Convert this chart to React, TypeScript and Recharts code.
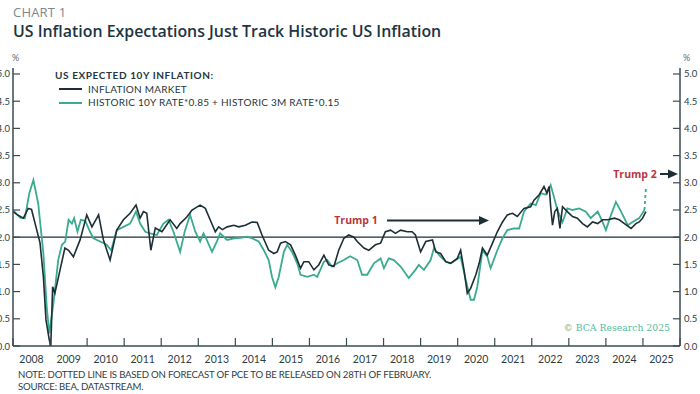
import React from 'react';
import { LineChart, Line, XAxis, YAxis, ReferenceLine } from 'recharts';

// ---------- data ----------
const marketDates = [
  2008.0, 2008.1, 2008.28, 2008.41, 2008.5, 2008.62, 2008.73, 2008.82, 2008.89, 2008.98,
  2009.02, 2009.07, 2009.13, 2009.27, 2009.4, 2009.5, 2009.63, 2009.81, 2009.99, 2010.13,
  2010.31, 2010.44, 2010.62, 2010.8, 2010.98, 2011.16, 2011.32, 2011.43, 2011.52, 2011.61,
  2011.72, 2011.84, 2012.02, 2012.24, 2012.42, 2012.51, 2012.69, 2012.83, 2013.05, 2013.19,
  2013.32, 2013.46, 2013.55, 2013.65, 2013.78, 2013.96, 2014.09, 2014.27, 2014.45, 2014.59,
  2014.72, 2014.9, 2015.04, 2015.13, 2015.22, 2015.35, 2015.49, 2015.62, 2015.76, 2015.85,
  2015.98, 2016.12, 2016.25, 2016.39, 2016.52, 2016.66, 2016.79, 2016.93, 2017.06, 2017.2,
  2017.29, 2017.47, 2017.6, 2017.78, 2017.92, 2018.05, 2018.19, 2018.32, 2018.46, 2018.64,
  2018.77, 2018.86, 2019.0, 2019.14, 2019.32, 2019.41, 2019.54, 2019.68, 2019.81, 2019.99,
  2020.08, 2020.17, 2020.26, 2020.35, 2020.49, 2020.58, 2020.67, 2020.8, 2020.94, 2021.07,
  2021.21, 2021.34, 2021.48, 2021.61, 2021.79, 2021.97, 2022.06, 2022.2, 2022.33, 2022.41,
  2022.47, 2022.51, 2022.56, 2022.62, 2022.69, 2022.76, 2022.83, 2022.96, 2023.1, 2023.23,
  2023.37, 2023.5, 2023.64, 2023.78, 2023.91, 2024.05, 2024.23, 2024.36, 2024.5, 2024.68,
  2024.81, 2024.9, 2024.99, 2025.08,
];
const marketValues = [
  2.47, 2.42, 2.35, 2.53, 2.51, 2.19, 1.89, 1.27, 0.48, 0.11,
  0.0, 1.09, 0.97, 1.4, 1.8, 1.76, 1.64, 1.95, 2.41, 2.19,
  2.41, 1.95, 1.58, 2.13, 2.32, 2.44, 2.59, 2.35, 2.47, 2.44,
  1.76, 2.17, 2.1, 2.32, 2.16, 2.25, 2.37, 2.5, 2.59, 2.53,
  2.32, 2.1, 2.19, 2.14, 2.19, 2.22, 2.19, 2.22, 2.28, 2.27,
  2.04, 1.76, 1.7, 1.73, 1.89, 1.92, 1.86, 1.67, 1.43, 1.55,
  1.55, 1.4, 1.49, 1.67, 1.49, 1.46, 1.76, 1.98, 2.04, 2.0,
  1.92, 1.8, 1.76, 1.86, 1.89, 2.1, 2.13, 2.07, 2.13, 2.1,
  2.1, 2.04, 1.73, 1.92, 1.95, 1.73, 1.7, 1.55, 1.52, 1.61,
  1.76, 1.4, 0.97, 1.06, 1.31, 1.52, 1.8, 1.67, 1.89, 2.1,
  2.28, 2.41, 2.44, 2.38, 2.53, 2.56, 2.68, 2.78, 2.93, 2.81,
  2.93, 2.56, 2.22, 2.47, 2.53, 2.16, 2.56, 2.47, 2.38, 2.35,
  2.25, 2.19, 2.28, 2.25, 2.32, 2.32, 2.35, 2.32, 2.25, 2.16,
  2.25, 2.28, 2.35, 2.47,
];

const historicDates = [
  2008.0, 2008.19, 2008.32, 2008.44, 2008.55, 2008.68, 2008.82, 2008.91, 2008.98, 2009.09,
  2009.22, 2009.32, 2009.41, 2009.5, 2009.59, 2009.65, 2009.74, 2009.83, 2009.95, 2010.08,
  2010.17, 2010.35, 2010.53, 2010.65, 2010.8, 2010.98, 2011.16, 2011.32, 2011.43, 2011.57,
  2011.7, 2011.88, 2012.06, 2012.2, 2012.33, 2012.51, 2012.64, 2012.78, 2012.92, 2013.05,
  2013.14, 2013.23, 2013.37, 2013.5, 2013.59, 2013.78, 2013.96, 2014.14, 2014.32, 2014.45,
  2014.63, 2014.77, 2014.9, 2014.99, 2015.08, 2015.17, 2015.31, 2015.4, 2015.53, 2015.67,
  2015.76, 2015.94, 2016.12, 2016.21, 2016.39, 2016.48, 2016.61, 2016.75, 2016.93, 2017.1,
  2017.29, 2017.42, 2017.56, 2017.74, 2017.92, 2018.01, 2018.14, 2018.28, 2018.46, 2018.68,
  2018.86, 2018.95, 2019.09, 2019.27, 2019.36, 2019.5, 2019.68, 2019.81, 2019.95, 2020.08,
  2020.22, 2020.35, 2020.44, 2020.53, 2020.67, 2020.8, 2020.89, 2021.07, 2021.21, 2021.34,
  2021.52, 2021.66, 2021.79, 2021.97, 2022.11, 2022.24, 2022.38, 2022.51, 2022.6, 2022.69,
  2022.83, 2022.96, 2023.1, 2023.28, 2023.46, 2023.59, 2023.78, 2023.91, 2024.0, 2024.14,
  2024.27, 2024.41, 2024.59, 2024.72, 2024.9, 2025.04,
];
const historicValues = [
  2.5, 2.36, 2.35, 2.81, 3.05, 2.62, 1.7, 0.72, 0.23, 0.78,
  1.58, 1.86, 1.92, 2.32, 2.25, 2.35, 2.1, 2.32, 2.3, 2.1,
  1.98, 1.92, 1.86, 1.76, 2.13, 2.19, 2.25, 2.47, 2.25, 2.1,
  2.07, 2.04, 2.25, 2.32, 2.1, 1.73, 2.12, 2.41, 2.1, 1.92,
  2.07, 1.95, 1.73, 1.92, 2.07, 1.95, 1.98, 1.99, 2.01, 1.98,
  1.92, 1.76, 1.58, 1.27, 1.08, 1.27, 1.73, 1.86, 1.73, 1.52,
  1.31, 1.27, 1.31, 1.27, 1.55, 1.58, 1.46, 1.52, 1.58, 1.65,
  1.58, 1.31, 1.31, 1.52, 1.61, 1.43, 1.61, 1.58, 1.46, 1.25,
  1.4, 1.49, 1.4, 1.58, 1.8, 1.67, 1.55, 1.52, 1.58, 1.64,
  1.21, 0.85, 0.85, 1.09, 1.76, 1.64, 1.43, 1.76, 1.98, 2.13,
  2.16, 2.16, 2.47, 2.62, 2.59, 2.81, 2.78, 2.96, 2.74, 2.5,
  2.28, 2.53, 2.5, 2.53, 2.47, 2.35, 2.47, 2.28, 2.13, 2.41,
  2.65, 2.47, 2.22, 2.28, 2.35, 2.5,
];

const forecastDates = [2025.04, 2025.08];
const forecastValues = [2.5, 2.9];

const yearTicks = [2008, 2009, 2010, 2011, 2012, 2013, 2014, 2015, 2016, 2017, 2018, 2019, 2020, 2021, 2022, 2023, 2024, 2025, 2026];
const yTicks = [0, 0.5, 1, 1.5, 2, 2.5, 3, 3.5, 4, 4.5, 5];

const marketData = marketDates.map((t, i) => ({ t, v: marketValues[i] }));
const historicData = historicDates.map((t, i) => ({ t, v: historicValues[i] }));
const forecastData = forecastDates.map((t, i) => ({ t, v: forecastValues[i] }));

// ---------- style ----------
const W = 700;
const H = 394;
const DARK = '#1d2e36';
const TEAL = '#3aab8e';
const AXIS = '#3a4b52';
const RED = '#b8363d';
const TICK_FONT = 'Lato, "Open Sans", sans-serif';
const PLOT_W = 667;
const HALF_YEAR = PLOT_W / 18 / 2;

const XTick = (props: any) => {
  const { x, y, payload } = props;
  const axisY = y;
  return (
    <g>
      <line x1={x} x2={x} y1={axisY} y2={axisY - 8} stroke={AXIS} strokeWidth={1.2} />
      {payload.value < 2026 && (
        <text x={x + HALF_YEAR} y={axisY + 17} textAnchor="middle" fontSize={10.5} fill="#2d3d44" fontFamily={TICK_FONT}>
          {payload.value}
        </text>
      )}
    </g>
  );
};

const LeftTick = (props: any) => {
  const { x, y, payload } = props;
  const ax = x + 4;
  return (
    <g>
      <line x1={ax} x2={ax + 7} y1={y} y2={y} stroke={AXIS} strokeWidth={1.2} />
      <text x={x + 1} y={y + 3.5} textAnchor="end" fontSize={9.5} fill="#2d3d44" fontFamily={TICK_FONT}>
        {payload.value.toFixed(1)}
      </text>
    </g>
  );
};

const RightTick = (props: any) => {
  const { x, y, payload } = props;
  const ax = x - 4;
  return (
    <g>
      <line x1={ax - 7} x2={ax} y1={y} y2={y} stroke={AXIS} strokeWidth={1.2} />
      <text x={x} y={y + 3.5} textAnchor="start" fontSize={9.5} fill="#2d3d44" fontFamily={TICK_FONT}>
        {payload.value.toFixed(1)}
      </text>
    </g>
  );
};

export default function App() {
  return (
    <div style={{ position: 'absolute', left: 0, top: 0, width: W, height: H, background: '#fff', overflow: 'hidden' }}>
      <LineChart width={W} height={H} margin={{ top: 68, right: 0, bottom: 28, left: 0 }}>
        <XAxis
          dataKey="t"
          type="number"
          domain={[2008, 2026]}
          ticks={yearTicks}
          interval={0}
          tickSize={0}
          tickMargin={0}
          height={20}
          axisLine={{ stroke: AXIS, strokeWidth: 1.5 }}
          tick={<XTick />}
          allowDataOverflow
        />
        <XAxis
          xAxisId="top"
          orientation="top"
          type="number"
          domain={[2008, 2026]}
          height={0}
          tick={false}
          tickLine={false}
          axisLine={{ stroke: AXIS, strokeWidth: 1.5 }}
        />
        <YAxis
          yAxisId="left"
          orientation="left"
          type="number"
          domain={[0, 5.11]}
          ticks={yTicks}
          interval={0}
          width={13}
          tickSize={0}
          tickMargin={4}
          axisLine={{ stroke: AXIS, strokeWidth: 1.5 }}
          tick={<LeftTick />}
          allowDataOverflow
        />
        <YAxis
          yAxisId="right"
          orientation="right"
          type="number"
          domain={[0, 5.11]}
          ticks={yTicks}
          interval={0}
          width={20}
          tickSize={0}
          tickMargin={4}
          axisLine={{ stroke: AXIS, strokeWidth: 1.5 }}
          tick={<RightTick />}
          allowDataOverflow
        />
        <ReferenceLine yAxisId="left" y={2} stroke={DARK} strokeWidth={1.3} />
        <Line
          yAxisId="left"
          data={historicData}
          dataKey="v"
          type="linear"
          stroke={TEAL}
          strokeWidth={1.8}
          dot={false}
          isAnimationActive={false}
        />
        <Line
          yAxisId="left"
          data={forecastData}
          dataKey="v"
          type="linear"
          stroke={TEAL}
          strokeWidth={1.8}
          strokeDasharray="3 3"
          dot={false}
          isAnimationActive={false}
        />
        <Line
          yAxisId="left"
          data={marketData}
          dataKey="v"
          type="linear"
          stroke={DARK}
          strokeWidth={1.6}
          dot={false}
          isAnimationActive={false}
        />
      </LineChart>

      {/* header */}
      <div style={{ position: 'absolute', left: 13, top: 4, fontFamily: '"Open Sans", sans-serif', fontSize: 13, lineHeight: '16px', color: '#7b878c', letterSpacing: 0.2 }}>
        CHART 1
      </div>
      <div style={{ position: 'absolute', left: 13, top: 21, fontFamily: '"Open Sans", sans-serif', fontWeight: 600, fontSize: 15.9, lineHeight: '20px', color: '#1e3442', whiteSpace: 'nowrap' }}>
        US Inflation Expectations Just Track Historic US Inflation
      </div>
      <div style={{ position: 'absolute', left: 12, top: 52, fontFamily: TICK_FONT, fontSize: 9, lineHeight: '11px', color: '#5a686e' }}>%</div>
      <div style={{ position: 'absolute', left: 683, top: 52, fontFamily: TICK_FONT, fontSize: 9, lineHeight: '11px', color: '#5a686e' }}>%</div>

      {/* legend */}
      <div style={{ position: 'absolute', left: 55, top: 69, fontFamily: TICK_FONT, fontSize: 10, fontWeight: 700, color: '#25363e', whiteSpace: 'nowrap', lineHeight: '13.5px', letterSpacing: 0.25 }}>
        <div style={{ letterSpacing: 0.6 }}>US EXPECTED 10Y INFLATION:</div>
        <div style={{ display: 'flex', alignItems: 'center' }}>
          <span style={{ display: 'inline-block', width: 23, height: 0, borderTop: `2px solid ${DARK}`, margin: '0 6px 0 4px' }} />
          <span style={{ fontWeight: 400 }}>INFLATION MARKET</span>
        </div>
        <div style={{ display: 'flex', alignItems: 'center' }}>
          <span style={{ display: 'inline-block', width: 23, height: 0, borderTop: `2px solid ${TEAL}`, margin: '0 6px 0 4px' }} />
          <span style={{ fontWeight: 400 }}>HISTORIC 10Y RATE*0.85 + HISTORIC 3M RATE*0.15</span>
        </div>
      </div>

      {/* annotations */}
      <svg width={W} height={H} style={{ position: 'absolute', left: 0, top: 0, pointerEvents: 'none' }}>
        <text x={356} y={224} textAnchor="middle" fontFamily='"Open Sans", sans-serif' fontWeight={700} fontSize={10.5} fill={RED}>Trump 1</text>
        <line x1={387} x2={482} y1={220.5} y2={220.5} stroke={DARK} strokeWidth={2} />
        <polygon points="489,220.5 479,216 479,225" fill={DARK} />
        <text x={635} y={178} textAnchor="middle" fontFamily='"Open Sans", sans-serif' fontWeight={700} fontSize={10.5} fill={RED}>Trump 2</text>
        <line x1={660} x2={671} y1={174} y2={174} stroke={DARK} strokeWidth={2} />
        <polygon points="678,174 668,169.5 668,178.5" fill={DARK} />
        <text x={670} y={331} textAnchor="end" fontFamily='"DejaVu Serif", "Liberation Serif", serif' fontSize={9.3} fill="#55bba0">© BCA Research 2025</text>
      </svg>

      {/* notes */}
      <div style={{ position: 'absolute', left: 18, top: 369, fontFamily: TICK_FONT, fontSize: 9.6, color: '#2d3d44', lineHeight: '11.5px', whiteSpace: 'nowrap', letterSpacing: -0.2 }}>
        <div>NOTE: DOTTED LINE IS BASED ON FORECAST OF PCE TO BE RELEASED ON 28TH OF FEBRUARY.</div>
        <div>SOURCE: BEA, DATASTREAM.</div>
      </div>
    </div>
  );
}
